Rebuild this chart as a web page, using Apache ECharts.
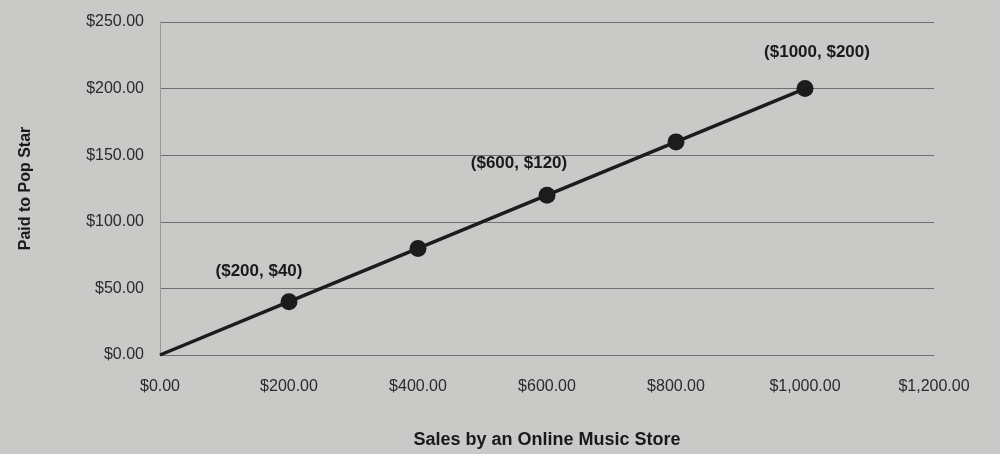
<!DOCTYPE html>
<html><head><meta charset="utf-8">
<style>html,body{margin:0;padding:0;background:#c9c9c7;}#c{width:1000px;height:454px;}</style>
<script src="https://cdn.jsdelivr.net/npm/echarts@6/dist/echarts.min.js"></script>
</head><body><div id="c"></div>
<script>
var sales = [0, 200, 400, 600, 800, 1000];
var paid = [0, 40, 80, 120, 160, 200];
var pointLabels = ['', '($200, $40)', '', '($600, $120)', '', '($1000, $200)'];
var showMarker = [false, true, true, true, true, true];
var xTitle = 'Sales by an Online Music Store';
var yTitle = 'Paid to Pop Star';

// label placement (styling only)
var labelOffsets = {1: [-30, -8], 3: [-28, -10], 5: [12, -14]};

function money(v){
  var s = Math.abs(v).toFixed(2).replace(/\B(?=(\d{3})+(?!\d))/g, ',');
  return '$' + s;
}
var chart = echarts.init(document.getElementById('c'));
var data = sales.map(function(x, i){
  return {
    value: [x, paid[i]],
    symbolSize: showMarker[i] ? 17 : 0,
    label: {show: pointLabels[i] !== '', formatter: pointLabels[i], position: 'top', offset: labelOffsets[i] || [0, 0]}
  };
});
chart.setOption({
  backgroundColor: '#c9c9c7',
  animation: false,
  grid: {left: 160, right: 66, top: 22, bottom: 99},
  xAxis: {
    type: 'value', min: 0, max: 1200, interval: 200,
    name: xTitle, nameLocation: 'middle', nameGap: 76,
    nameTextStyle: {fontFamily: 'Liberation Sans', fontWeight: 'bold', fontSize: 18, color: '#1a1a1a'},
    axisLine: {show: true, lineStyle: {color: '#6f6f6f', width: 1}},
    axisTick: {show: false},
    splitLine: {show: false},
    axisLabel: {formatter: money, fontFamily: 'Liberation Sans Narrow, Liberation Sans', fontSize: 16, color: '#2a2a2a', margin: 24}
  },
  yAxis: {
    type: 'value', min: 0, max: 250, interval: 50,
    name: yTitle, nameLocation: 'middle', nameGap: 126, nameRotate: 90,
    nameTextStyle: {fontFamily: 'Liberation Sans', fontWeight: 'bold', fontSize: 16, color: '#1a1a1a'},
    axisLine: {show: true, lineStyle: {color: '#999999', width: 1}},
    axisTick: {show: false},
    splitLine: {lineStyle: {color: '#6f6f6f', width: 1}},
    axisLabel: {formatter: money, fontFamily: 'Liberation Sans Narrow, Liberation Sans', fontSize: 16, color: '#2a2a2a', margin: 16}
  },
  series: [{
    type: 'line',
    data: data,
    symbol: 'circle',
    itemStyle: {color: '#1c1c1c'},
    lineStyle: {color: '#1c1c1c', width: 3.5},
    label: {fontFamily: 'Liberation Sans', fontWeight: 'bold', fontSize: 17, color: '#1a1a1a'}
  }]
});
</script></body></html>
